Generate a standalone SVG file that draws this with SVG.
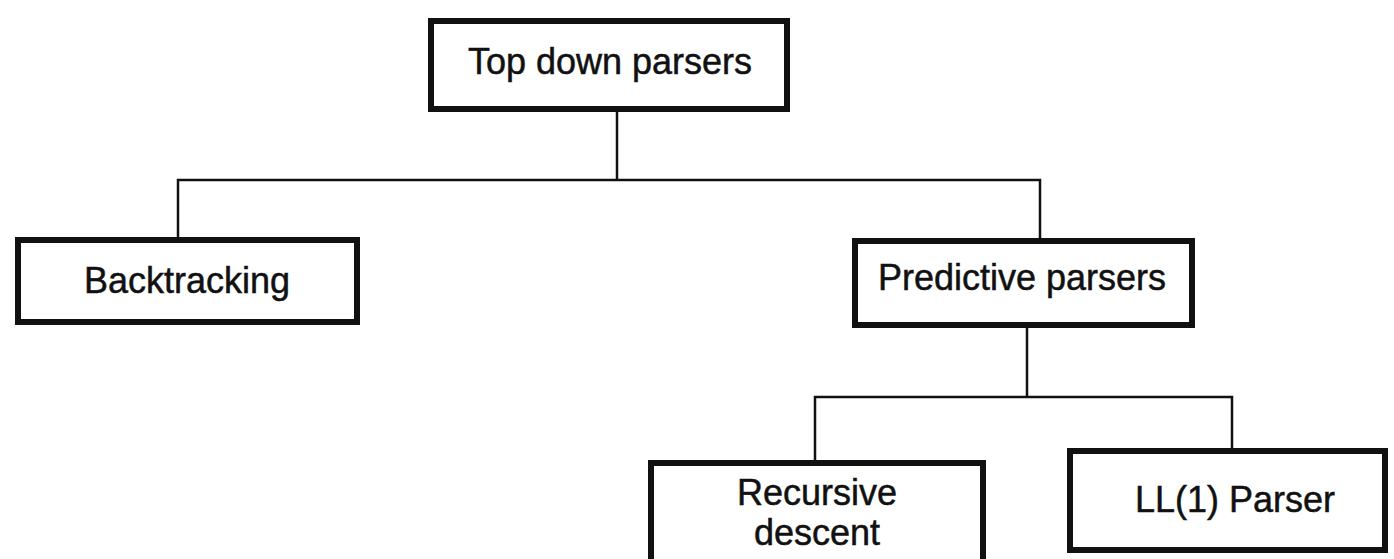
<svg xmlns="http://www.w3.org/2000/svg" width="1394" height="559" viewBox="0 0 1394 559">
  <style>
    .box { fill: #ffffff; stroke: #111111; stroke-width: 6; }
    .label { font-family: "Liberation Sans", Arial, Helvetica, sans-serif; font-size: 36px; fill: #111111; stroke: #111111; stroke-width: 0.5; text-anchor: middle; }
    .wire { fill: none; stroke: #111111; stroke-width: 2.5; }
  </style>
  <rect x="0" y="0" width="1394" height="559" fill="#ffffff"/>

  <!-- tree connectors -->
  <g id="connectors">
    <path class="wire" d="M617 112 V180"/>
    <path class="wire" d="M178 237 V180 H1040 V238"/>
    <path class="wire" d="M1027 328 V397"/>
    <path class="wire" d="M815 460 V397 H1232 V448"/>
  </g>

  <g id="top-down-parsers">
    <rect class="box" x="431" y="21" width="356" height="88"/>
    <text class="label" x="610" y="74">Top down parsers</text>
  </g>

  <g id="backtracking">
    <rect class="box" x="18" y="240" width="339" height="82"/>
    <text class="label" x="187" y="293">Backtracking</text>
  </g>

  <g id="predictive-parsers">
    <rect class="box" x="855" y="241" width="337" height="84"/>
    <text class="label" x="1022" y="290">Predictive parsers</text>
  </g>

  <g id="recursive-descent">
    <rect class="box" x="651" y="463" width="332" height="110"/>
    <text class="label" x="817" y="505">Recursive</text>
    <text class="label" x="817" y="545">descent</text>
  </g>

  <g id="ll1-parser">
    <rect class="box" x="1070" y="451" width="315" height="99"/>
    <text class="label" x="1235" y="512">LL(1) Parser</text>
  </g>
</svg>
